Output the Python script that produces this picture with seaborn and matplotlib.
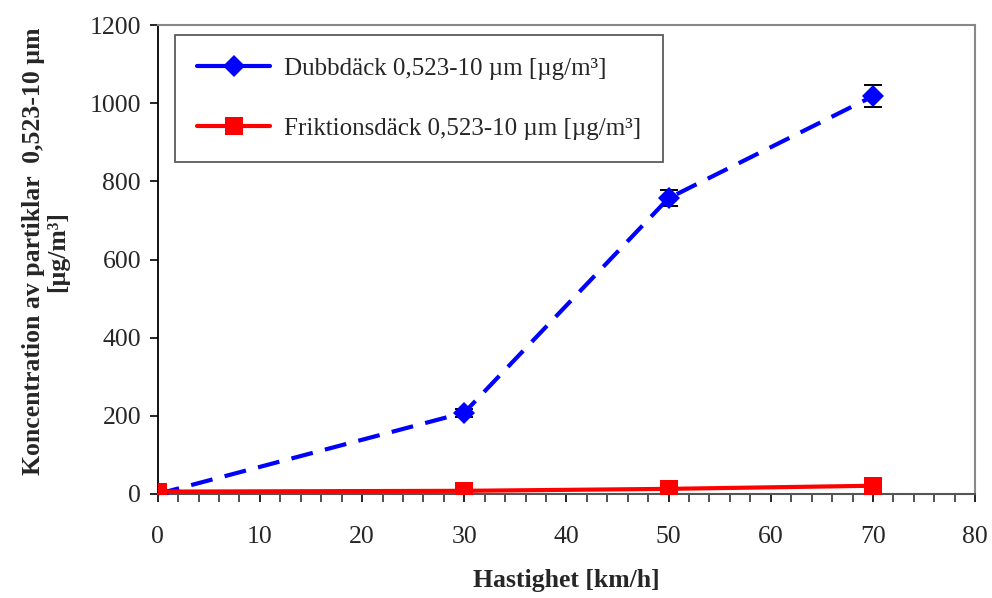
import matplotlib
matplotlib.use("Agg")
import matplotlib.pyplot as plt
import seaborn as sns
import numpy as np
import pandas as pd
from matplotlib.ticker import MultipleLocator

speed = [0, 30, 50, 70]
dubb = [0, 208, 757, 1018]
dubb_err = [0, 10, 20, 28]
frik = [6, 8, 13, 21]

label_dubb = "Dubbdäck 0,523-10 µm [µg/m³]"
label_frik = "Friktionsdäck 0,523-10 µm [µg/m³]"

sns.set_theme(style="white")
plt.rcParams['font.family'] = ['Liberation Serif', 'DejaVu Serif']

fig = plt.figure(figsize=(9.92, 5.98), dpi=100)
ax = fig.add_axes([0.159, 0.174, 0.824, 0.784])

df = pd.DataFrame({"speed": speed, "dubb": dubb, "frik": frik})

ax.errorbar(speed, dubb, yerr=dubb_err, fmt='none', ecolor='black',
            elinewidth=1.4, capsize=6.5, capthick=1.4, zorder=4)
sns.lineplot(data=df, x="speed", y="dubb", ax=ax, color="#0000FF",
             marker="D", markersize=11, markeredgewidth=0, linewidth=3,
             dashes=False, label=label_dubb, zorder=5)
ax.lines[-1].set_dashes([5.3, 3])
sns.lineplot(data=df, x="speed", y="frik", ax=ax, color="#FF0000",
             marker="s", markersize=12.5, markeredgewidth=0, linewidth=3,
             label=label_frik, zorder=6)

ax.set_xlim(0, 80)
ax.set_ylim(0, 1200)
ax.set_xticks(np.arange(0, 81, 10))
ax.set_yticks(np.arange(0, 1201, 200))
ax.xaxis.set_minor_locator(MultipleLocator(2))
ax.tick_params(axis='both', which='major', labelsize=18.5, direction='out',
               length=6, width=1.2, color='black', pad=6,
               bottom=True, left=True)
ax.tick_params(axis='x', which='major', pad=17)
ax.tick_params(axis='x', which='minor', direction='out', length=6,
               width=1.2, color='#333333', bottom=True)
ax.spines['left'].set_color('black')
ax.spines['left'].set_linewidth(1.3)
ax.spines['bottom'].set_color('#555555')
ax.spines['bottom'].set_linewidth(1.5)
for s in ['top', 'right']:
    ax.spines[s].set_color('#888888')
    ax.spines[s].set_linewidth(1.5)

ax.set_xlabel("Hastighet [km/h]", fontsize=18.5, fontweight='bold')
ax.xaxis.set_label_coords(0.5, -0.16)
ax.set_ylabel("Koncentration av partiklar  0,523-10 µm\n[µg/m³]", fontsize=18.5,
              fontweight='bold', linespacing=1.05)
ax.yaxis.set_label_coords(-0.1085, 0.518)

leg = ax.legend(loc='upper left', bbox_to_anchor=(0.021, 0.979), fontsize=18,
                frameon=True, fancybox=False, edgecolor='#333333',
                handlelength=2.9, borderpad=0.9, labelspacing=1.5,
                handletextpad=0.55, borderaxespad=0)
leg.get_frame().set_linewidth(1.3)
leg.get_lines()[0].set_dashes([])
for l in leg.get_lines():
    l.set_linewidth(3)

fig.savefig("out.png", dpi=100)
